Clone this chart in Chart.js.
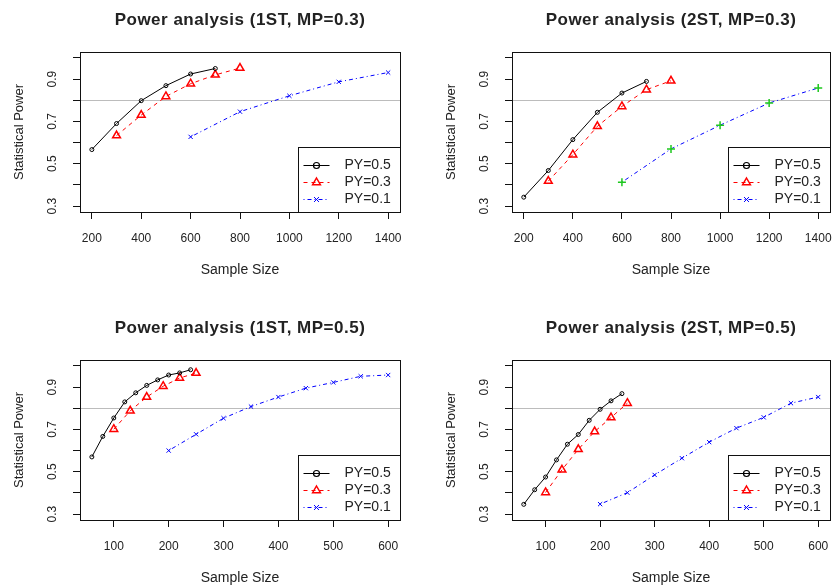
<!DOCTYPE html>
<html>
<head>
<meta charset="utf-8">
<script src="https://cdn.jsdelivr.net/npm/chart.js"></script>
<style>
  body { margin: 0; background: #fff; }
  #wrap { position: relative; width: 836px; height: 588px; overflow: hidden; }
  #wrap canvas { position: absolute; }
</style>
</head>
<body>
<div id="wrap">
  <canvas id="c1" width="418" height="294" style="left:0;top:0"></canvas>
  <canvas id="c2" width="418" height="294" style="left:418px;top:0"></canvas>
  <canvas id="c3" width="418" height="294" style="left:0;top:294px"></canvas>
  <canvas id="c4" width="418" height="294" style="left:418px;top:294px"></canvas>
</div>
<script>
// sample sizes (x values)
const nA_py05 = [200, 300, 400, 500, 600, 700];
const nA_py03 = [300, 400, 500, 600, 700, 800];
const nA_py01 = [600, 800, 1000, 1200, 1400];
const nB_py05 = [60, 80, 100, 120, 140, 160, 180, 200, 220, 240];
const nB_py03 = [100, 130, 160, 190, 220, 250];
const nB_py01 = [200, 250, 300, 350, 400, 450, 500, 550, 600];

// statistical power (y values)
const pow1st03_py05 = [0.567, 0.690, 0.798, 0.869, 0.924, 0.950];
const pow1st03_py03 = [0.633, 0.730, 0.818, 0.878, 0.920, 0.952];
const pow1st03_py01 = [0.627, 0.746, 0.821, 0.887, 0.931];
const pow2st03_py05 = [0.342, 0.468, 0.614, 0.743, 0.834, 0.889];
const pow2st03_py03 = [0.418, 0.543, 0.677, 0.771, 0.850, 0.892];
const pow2st03_py01 = [0.413, 0.570, 0.682, 0.787, 0.858];
const pow1st05_py05 = [0.570, 0.667, 0.754, 0.830, 0.873, 0.908, 0.934, 0.957, 0.967, 0.982];
const pow1st05_py03 = [0.701, 0.788, 0.853, 0.904, 0.943, 0.966];
const pow1st05_py01 = [0.600, 0.677, 0.753, 0.808, 0.853, 0.895, 0.922, 0.951, 0.957];
const pow2st05_py05 = [0.346, 0.415, 0.475, 0.556, 0.630, 0.676, 0.743, 0.795, 0.835, 0.869];
const pow2st05_py03 = [0.402, 0.509, 0.606, 0.690, 0.756, 0.824];
const pow2st05_py01 = [0.347, 0.401, 0.485, 0.564, 0.640, 0.706, 0.757, 0.824, 0.853];

// axes / labels
const xTicksA = [200, 400, 600, 800, 1000, 1200, 1400];
const xTicksB = [100, 200, 300, 400, 500, 600];
const yTicks = [0.3, 0.4, 0.5, 0.6, 0.7, 0.8, 0.9, 1.0];
const yTickLabels = ['0.3', '', '0.5', '', '0.7', '', '0.9', ''];
const legendLabels = ['PY=0.5', 'PY=0.3', 'PY=0.1'];
const targetPower = 0.8;

const FONT = "'Liberation Sans', Arial, Helvetica, sans-serif";
Chart.defaults.font.family = FONT;
Chart.defaults.color = '#222';

const Y_W = 68.8, X_H = 66.4;

const pts = (xs, ys) => xs.map((x, i) => ({ x, y: ys[i] }));

// R style: 4% extension of the data range
function rRange(lo, hi) {
  const p = (hi - lo) * 0.04;
  return [lo - p, hi + p];
}

function markerPath(ctx, style, x, y, r) {
  ctx.beginPath();
  if (style === 'circle') {
    ctx.arc(x, y, r, 0, Math.PI * 2);
  } else if (style === 'triangle') {
    ctx.moveTo(x, y - r);
    ctx.lineTo(x + r * 0.866, y + r * 0.5);
    ctx.lineTo(x - r * 0.866, y + r * 0.5);
    ctx.closePath();
  } else if (style === 'crossRot') {
    const d = r * 0.707;
    ctx.moveTo(x - d, y - d); ctx.lineTo(x + d, y + d);
    ctx.moveTo(x + d, y - d); ctx.lineTo(x - d, y + d);
  }
  ctx.stroke();
}

const rFrame = {
  id: 'rframe',
  beforeDatasetsDraw(chart, args, opts) {
    const { ctx, chartArea: a, scales: { y } } = chart;
    const yy = Math.round(y.getPixelForValue(opts.refLine)) + 0.5;
    ctx.save();
    ctx.strokeStyle = '#bcbcbc';
    ctx.lineWidth = 1;
    ctx.beginPath();
    ctx.moveTo(a.left, yy);
    ctx.lineTo(a.right, yy);
    ctx.stroke();
    ctx.restore();
  },
  afterDraw(chart, args, opts) {
    const { ctx, chartArea: a } = chart;
    ctx.save();
    // plot box
    ctx.strokeStyle = '#111';
    ctx.lineWidth = 1;
    ctx.strokeRect(Math.round(a.left) + 0.5, Math.round(a.top) + 0.5,
      Math.round(a.right - a.left), Math.round(a.bottom - a.top));

    // title
    ctx.fillStyle = '#222';
    ctx.font = 'bold 17px ' + FONT;
    ctx.textAlign = 'center';
    ctx.textBaseline = 'middle';
    ctx.letterSpacing = '0.5px';
    ctx.fillText(opts.title, (a.left + a.right) / 2, a.top - 31.5);
    ctx.letterSpacing = '0px';

    // legend (bottomright)
    const lw = 102, lh = 65;
    const lx = Math.round(a.right - lw) + 0.5, ly = Math.round(a.bottom - lh) + 0.5;
    ctx.fillStyle = '#fff';
    ctx.fillRect(lx, ly, lw, lh);
    ctx.strokeStyle = '#111';
    ctx.strokeRect(lx, ly, lw, lh);
    chart.data.datasets.forEach((ds, i) => {
      const yy = Math.round(ly + 17 + i * 17.4) + 0.5;
      ctx.strokeStyle = ds.borderColor;
      ctx.lineWidth = 1;
      ctx.setLineDash(ds.borderDash || []);
      ctx.beginPath();
      ctx.moveTo(lx + 5, yy);
      ctx.lineTo(lx + 31, yy);
      ctx.stroke();
      ctx.setLineDash([]);
      ctx.lineWidth = opts.legendWidths[i];
      markerPath(ctx, opts.legendStyles[i], lx + 18, yy, opts.legendRadii[i]);
      ctx.fillStyle = '#222';
      ctx.font = '14px ' + FONT;
      ctx.textAlign = 'left';
      ctx.fillText(ds.label, lx + 46, yy);
    });
    ctx.restore();
  }
};

function makePanel(id, title, box, xTicks, xLo, xHi, series) {
  const [xMin, xMax] = rRange(xLo, xHi);
  const [yMin, yMax] = rRange(0.3, 1.0);
  new Chart(document.getElementById(id), {
    type: 'line',
    data: {
      datasets: [
        {
          label: legendLabels[0], data: series[0],
          borderColor: '#000', borderWidth: 1,
          pointStyle: 'circle', pointRadius: 2, pointBorderWidth: 1,
          pointBorderColor: '#000', pointBackgroundColor: 'rgba(0,0,0,0)'
        },
        {
          label: legendLabels[1], data: series[1],
          borderColor: '#ff0000', borderWidth: 1, borderDash: [4, 4],
          pointStyle: 'triangle', pointRadius: 4.5, pointBorderWidth: 1.5,
          pointBorderColor: '#ff0000', pointBackgroundColor: 'rgba(0,0,0,0)'
        },
        {
          label: legendLabels[2], data: series[2],
          borderColor: '#0000ff', borderWidth: 1, borderDash: [1, 3, 4, 3],
          pointStyle: series[3] ? 'cross' : 'crossRot',
          pointRadius: series[3] ? 4 : 3, pointBorderWidth: series[3] ? 1.5 : 1,
          pointBorderColor: series[3] || '#0000ff', pointBackgroundColor: 'rgba(0,0,0,0)'
        }
      ]
    },
    options: {
      responsive: false,
      devicePixelRatio: 1,
      animation: false,
      parsing: false,
      layout: {
        padding: { left: box.l - Y_W, right: 418 - box.r, top: box.t, bottom: 294 - box.b - X_H }
      },
      plugins: {
        legend: { display: false },
        title: { display: false },
        tooltip: { enabled: false },
        rframe: {
          title, refLine: targetPower,
          legendStyles: ['circle', 'triangle', 'crossRot'],
          legendRadii: [3, 4.5, 3.5],
          legendWidths: [1.2, 1.5, 1]
        }
      },
      scales: {
        x: {
          type: 'linear', min: xMin, max: xMax,
          afterBuildTicks: s => { s.ticks = xTicks.map(v => ({ value: v })); },
          afterFit: s => { s.height = X_H; s.paddingLeft = 0; s.paddingRight = 0; },
          grid: { drawOnChartArea: false, drawTicks: true, tickLength: 7, color: '#111', lineWidth: 1 },
          border: { display: false },
          ticks: { autoSkip: false, maxRotation: 0, padding: 12, color: '#222',
                   font: { size: 12 }, callback: v => String(v) },
          title: { display: true, text: 'Sample Size', color: '#222', font: { size: 14 }, padding: 0 }
        },
        y: {
          type: 'linear', min: yMin, max: yMax,
          afterBuildTicks: s => { s.ticks = yTicks.map(v => ({ value: v })); },
          afterFit: s => { s.width = Y_W; s.paddingTop = 0; s.paddingBottom = 0; },
          grid: { drawOnChartArea: false, drawTicks: true, tickLength: 7, color: '#111', lineWidth: 1 },
          border: { display: false },
          ticks: { autoSkip: false, minRotation: 90, maxRotation: 90, crossAlign: 'center',
                   padding: 12, color: '#222', font: { size: 12 },
                   callback: (v, i) => yTickLabels[i] },
          title: { display: true, text: 'Statistical Power', color: '#222', font: { size: 13 }, padding: 0 }
        }
      }
    },
    plugins: [rFrame]
  });
}

makePanel('c1', 'Power analysis (1ST, MP=0.3)', { l: 80, r: 400, t: 52, b: 212 }, xTicksA, 200, 1400,
  [pts(nA_py05, pow1st03_py05), pts(nA_py03, pow1st03_py03), pts(nA_py01, pow1st03_py01)]);
makePanel('c2', 'Power analysis (2ST, MP=0.3)', { l: 94, r: 416, t: 52, b: 212 }, xTicksA, 200, 1400,
  [pts(nA_py05, pow2st03_py05), pts(nA_py03, pow2st03_py03), pts(nA_py01, pow2st03_py01), '#1ec81e']);
makePanel('c3', 'Power analysis (1ST, MP=0.5)', { l: 80, r: 400, t: 66, b: 226 }, xTicksB, 60, 600,
  [pts(nB_py05, pow1st05_py05), pts(nB_py03, pow1st05_py03), pts(nB_py01, pow1st05_py01)]);
makePanel('c4', 'Power analysis (2ST, MP=0.5)', { l: 94, r: 415, t: 66, b: 226 }, xTicksB, 60, 600,
  [pts(nB_py05, pow2st05_py05), pts(nB_py03, pow2st05_py03), pts(nB_py01, pow2st05_py01)]);
</script>
</body>
</html>
